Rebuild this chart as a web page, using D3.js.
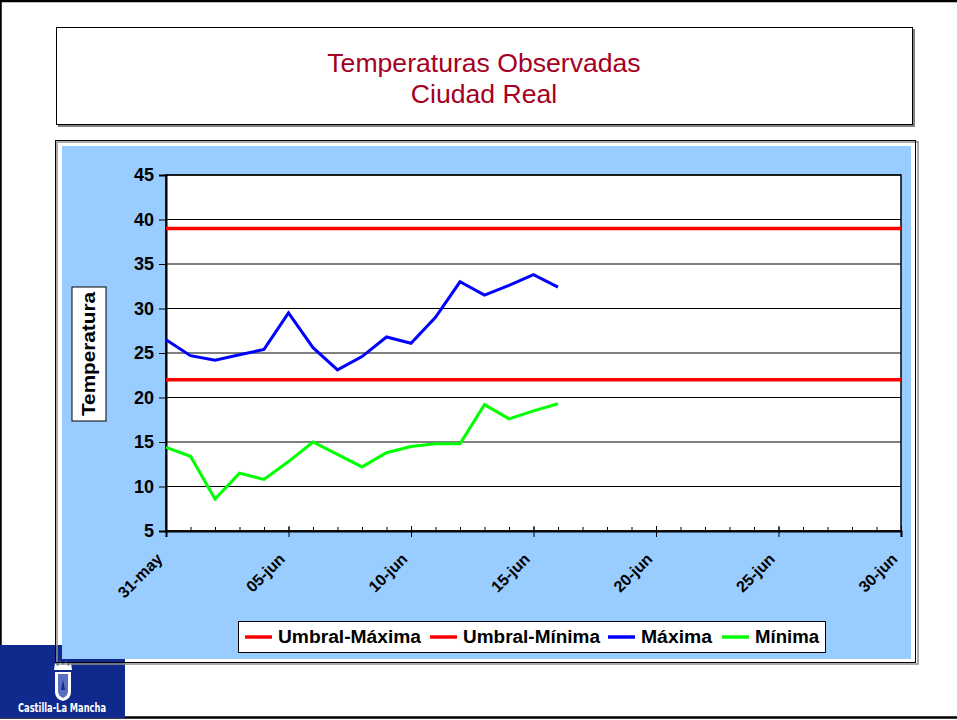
<!DOCTYPE html>
<html><head><meta charset="utf-8">
<script src="https://cdn.jsdelivr.net/npm/d3@7/dist/d3.min.js"></script>
<style>
html,body{margin:0;padding:0;background:#fff;}
svg{display:block;font-family:"Liberation Sans",Arial,sans-serif;}
</style></head>
<body>
<svg id="c" width="957" height="720"></svg>
<script>
const titleLines = ["Temperaturas Observadas", "Ciudad Real"];
const days = ["31-may","01-jun","02-jun","03-jun","04-jun","05-jun","06-jun","07-jun","08-jun","09-jun","10-jun",
  "11-jun","12-jun","13-jun","14-jun","15-jun","16-jun","17-jun","18-jun","19-jun","20-jun",
  "21-jun","22-jun","23-jun","24-jun","25-jun","26-jun","27-jun","28-jun","29-jun","30-jun"];
const dayLabels = ["31-may","05-jun","10-jun","15-jun","20-jun","25-jun","30-jun"];
const yTicks = [5,10,15,20,25,30,35,40,45];
const maxima = [26.5,24.7,24.2,24.8,25.4,29.5,25.6,23.1,24.6,26.8,26.1,29.0,33.0,31.5,32.6,33.8,32.4];
const minima = [14.4,13.4,8.6,11.5,10.8,12.8,15.0,13.6,12.2,13.8,14.5,14.8,14.8,19.2,17.6,18.5,19.3];
const umbralMax = 39;
const umbralMin = 22;
const seriesNames = ["Umbral-Máxima","Umbral-Mínima","Máxima","Mínima"];
const seriesColors = ["#ff0000","#ff0000","#0000ff","#00ff00"];

const svg = d3.select("#c");

// page frame
svg.append("rect").attr("x",0.5).attr("y",1).attr("width",980).attr("height",716.5)
  .attr("fill","#fff").attr("stroke","#000").attr("stroke-width",2.5);

// title box
svg.append("rect").attr("x",58).attr("y",29).attr("width",857).attr("height",98).attr("fill","#808080");
svg.append("rect").attr("x",56.5).attr("y",27.5).attr("width",856).attr("height",97)
  .attr("fill","#fff").attr("stroke","#000").attr("stroke-width",1);
svg.append("g").selectAll("text").data(titleLines).join("text")
  .attr("x",484).attr("y",(d,i)=>72+i*31).attr("text-anchor","middle")
  .attr("fill","#a50021").attr("font-size",26.6).text(d=>d);

// logo
const logo = svg.append("g");
logo.append("rect").attr("x",0).attr("y",645).attr("width",125).attr("height",73).attr("fill","#0f2a8c");
// crest
logo.append("path").attr("d","M55,672 L71,672 L71,692 Q71,699 63,701 Q55,699 55,692 Z").attr("fill","#fff");
logo.append("path").attr("d","M58,674 L68,674 L68,691 Q68,696 63,698 Q58,696 58,691 Z").attr("fill","#5a6fbf");
logo.append("path").attr("d","M61,690 L63,680 L65,690 Z").attr("fill","#0f2a8c");
logo.append("path").attr("d","M54,670 L55,663 L58,666 L60,661 L63,665 L66,661 L68,666 L71,663 L72,670 Z").attr("fill","#fff");
logo.append("text").attr("x",62).attr("y",712).attr("text-anchor","middle").attr("fill","#fff")
  .attr("font-weight","bold").attr("font-size",12).attr("textLength",88).attr("lengthAdjust","spacingAndGlyphs")
  .attr("font-family","'DejaVu Sans Condensed','Liberation Sans Narrow',sans-serif").text("Castilla-La Mancha");

// chart frame
svg.append("rect").attr("x",57).attr("y",142).attr("width",861).attr("height",522).attr("fill","none").attr("stroke","#909090").attr("stroke-width",1.5);
svg.append("rect").attr("x",55.5).attr("y",140.5).attr("width",860).attr("height",522).attr("fill","none").attr("stroke","#000").attr("stroke-width",1);
svg.append("rect").attr("x",62).attr("y",146).attr("width",849).attr("height",513).attr("fill","#99ccff");

const L=166, R=901, T=175, B=531;
const x = d3.scalePoint().domain(days).range([L,R]);
const y = d3.scaleLinear().domain([5,45]).range([B,T]);

svg.append("rect").attr("x",L).attr("y",T).attr("width",R-L).attr("height",B-T).attr("fill","#fff");

// gridlines
svg.append("g").selectAll("line").data(yTicks).join("line")
  .attr("x1",L).attr("x2",R).attr("y1",d=>y(d)).attr("y2",d=>y(d))
  .attr("stroke","#000").attr("stroke-width",1);

// plot border
svg.append("rect").attr("x",L).attr("y",T).attr("width",R-L).attr("height",B-T)
  .attr("fill","none").attr("stroke","#000").attr("stroke-width",1.5);

// y axis
const ya = svg.append("g").attr("transform",`translate(${L},0)`)
  .call(d3.axisLeft(y).tickValues(yTicks).tickSize(7).tickPadding(5).tickFormat(d3.format("d")));
ya.select(".domain").attr("stroke","#000").attr("stroke-width",2);
ya.selectAll(".tick line").attr("stroke","#000");
ya.selectAll("text").attr("font-size",18).attr("font-weight","bold").attr("fill","#000")
  .attr("font-family","'Liberation Sans',Arial,sans-serif");

// x axis: minor inside ticks
const xm = svg.append("g").attr("transform",`translate(0,${B})`)
  .call(d3.axisTop(x).tickValues(days).tickSize(4).tickFormat(""));
xm.select(".domain").remove();
xm.selectAll(".tick line").attr("stroke","#000");
// major crossing ticks
const xaUp = svg.append("g").attr("transform",`translate(0,${B})`)
  .call(d3.axisTop(x).tickValues(dayLabels).tickSize(5).tickFormat(""));
xaUp.select(".domain").remove();
const xa = svg.append("g").attr("transform",`translate(0,${B})`)
  .call(d3.axisBottom(x).tickValues(dayLabels).tickSize(6).tickPadding(4));
xa.select(".domain").attr("stroke","#000").attr("stroke-width",2);
xa.selectAll(".tick line").attr("stroke","#000");
xa.selectAll("text").attr("font-size",16).attr("font-weight","bold").attr("fill","#000")
  .attr("font-family","'Liberation Sans',Arial,sans-serif")
  .attr("text-anchor","end").attr("dy","0.35em")
  .attr("transform","translate(-7,25) rotate(-45)").attr("y",0).attr("x",0);

// y label
const yl = svg.append("g").attr("transform","translate(89,354) rotate(-90)");
yl.append("rect").attr("x",-67).attr("y",-17).attr("width",134).attr("height",34)
  .attr("fill","#fff").attr("stroke","#000").attr("stroke-width",1);
yl.append("text").attr("text-anchor","middle").attr("dy","0.36em").attr("font-size",18)
  .attr("font-weight","bold").attr("textLength",124).attr("lengthAdjust","spacingAndGlyphs").text("Temperatura");

// series
const line = d3.line().x((d,i)=>x(days[i])).y(d=>y(d));
const umbMaxArr = days.map(()=>umbralMax);
const umbMinArr = days.map(()=>umbralMin);
svg.append("path").datum(umbMaxArr).attr("d",line).attr("fill","none").attr("stroke",seriesColors[0]).attr("stroke-width",3.5);
svg.append("path").datum(umbMinArr).attr("d",line).attr("fill","none").attr("stroke",seriesColors[1]).attr("stroke-width",3.5);
svg.append("path").datum(maxima).attr("d",line).attr("fill","none").attr("stroke",seriesColors[2]).attr("stroke-width",3);
svg.append("path").datum(minima).attr("d",line).attr("fill","none").attr("stroke",seriesColors[3]).attr("stroke-width",3);

// legend
const lg = svg.append("g");
lg.append("rect").attr("x",238.5).attr("y",621.5).attr("width",587).attr("height",31)
  .attr("fill","#fff").attr("stroke","#000").attr("stroke-width",1);
const itemX = [245,430,608,722];
const textW = [143,137,71,64];
seriesNames.forEach((n,i)=>{
  lg.append("line").attr("x1",itemX[i]).attr("x2",itemX[i]+27).attr("y1",637).attr("y2",637)
    .attr("stroke",seriesColors[i]).attr("stroke-width",3.5);
  lg.append("text").attr("x",itemX[i]+33).attr("y",643).attr("font-size",17.5).attr("font-weight","bold")
    .attr("textLength",textW[i]).attr("lengthAdjust","spacingAndGlyphs").text(n);
});
</script>
</body></html>
